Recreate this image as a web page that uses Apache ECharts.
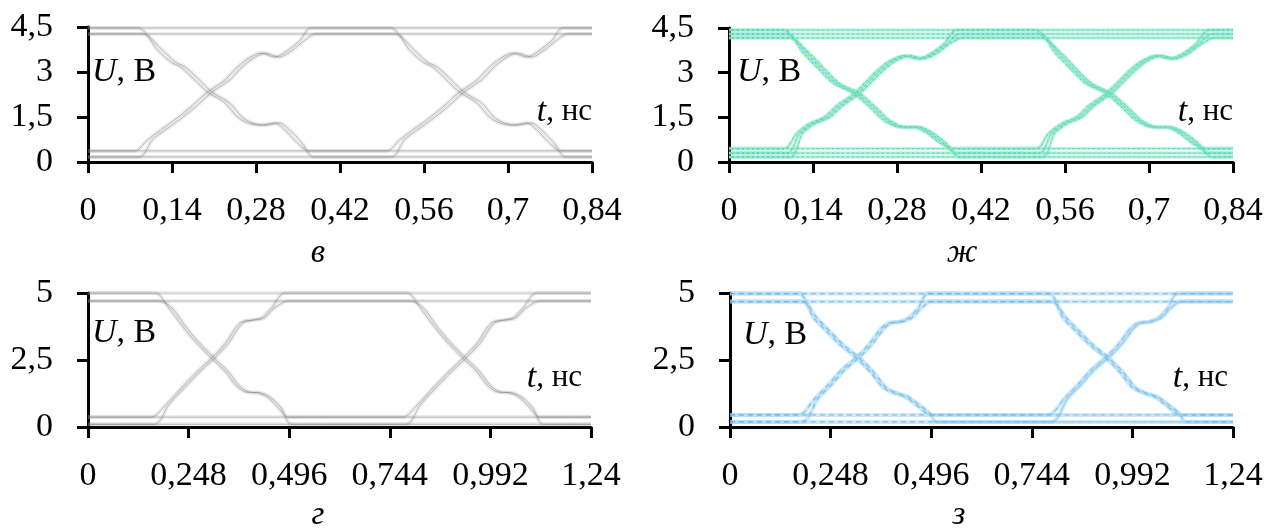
<!DOCTYPE html>
<html>
<head>
<meta charset="utf-8">
<script src="https://cdn.jsdelivr.net/npm/echarts@6/dist/echarts.min.js"></script>
<style>
html, body { margin: 0; padding: 0; background: #fff; }
#eye { width: 1273px; height: 531px; }
</style>
</head>
<body>
<div id="eye"></div>
<script>
// в — grey eye, 0..0.84 ns
var vHi = [4.47, 4.27]
var vLo = [0.37, 0.17]
var vFallT = [0.087, 0.12, 0.142, 0.158, 0.182, 0.203, 0.232, 0.253, 0.27, 0.292, 0.315, 0.332, 0.353, 0.372]
var vFallU = [4.4, 3.73, 3.33, 3.17, 2.73, 2.33, 1.97, 1.5, 1.3, 1.23, 1.3, 1.07, 0.63, 0.33]
var vRiseT = [0.082, 0.103, 0.125, 0.148, 0.175, 0.203, 0.232, 0.253, 0.275, 0.292, 0.315, 0.337, 0.358, 0.375]
var vRiseU = [0.33, 0.73, 1.07, 1.4, 1.83, 2.33, 2.73, 3.17, 3.5, 3.63, 3.5, 3.73, 4.07, 4.33]
var vUI = 0.42

// ж — coloured eye, 0..0.84 ns
var zhHi = [4.43, 4.3, 4.17]
var zhLo = [0.45, 0.3, 0.17]
var zhFallT = [0.095, 0.13, 0.157, 0.18, 0.213, 0.24, 0.263, 0.29, 0.313, 0.335, 0.357, 0.38]
var zhFallU = [4.3, 3.63, 3.07, 2.63, 2.3, 1.83, 1.4, 1.17, 1.17, 0.97, 0.63, 0.35]
var zhRiseT = [0.097, 0.118, 0.14, 0.163, 0.185, 0.213, 0.235, 0.252, 0.273, 0.297, 0.318, 0.34, 0.363, 0.385]
var zhRiseU = [0.5, 0.97, 1.3, 1.5, 1.9, 2.3, 2.73, 3.07, 3.4, 3.57, 3.47, 3.63, 3.97, 4.23]
var zhUI = 0.42

// г — grey eye, 0..1.24 ns
var gHi = [5.0, 4.7]
var gLo = [0.37, 0.1]
var gFallT = [0.17, 0.202, 0.234, 0.269, 0.308, 0.343, 0.367, 0.392, 0.424, 0.449, 0.473, 0.498]
var gFallU = [4.81, 4.46, 3.81, 3.17, 2.57, 2.05, 1.57, 1.31, 1.27, 1.08, 0.71, 0.45]
var gRiseT = [0.16, 0.195, 0.234, 0.269, 0.308, 0.343, 0.367, 0.382, 0.407, 0.431, 0.456, 0.49]
var gRiseU = [0.45, 0.82, 1.46, 2.01, 2.57, 3.13, 3.69, 3.92, 3.99, 4.07, 4.44, 4.93]
var gUI = 0.62

// з — coloured eye, 0..1.24 ns
var zHi = [4.98, 4.68]
var zLo = [0.45, 0.19]
var zFallT = [0.173, 0.21, 0.239, 0.276, 0.313, 0.35, 0.382, 0.407, 0.436, 0.463, 0.488, 0.505]
var zFallU = [4.74, 4.07, 3.62, 3.06, 2.61, 2.05, 1.46, 1.27, 1.12, 0.82, 0.52, 0.34]
var zRiseT = [0.173, 0.214, 0.246, 0.279, 0.316, 0.345, 0.377, 0.394, 0.419, 0.444, 0.468, 0.493]
var zRiseU = [0.56, 1.08, 1.57, 2.13, 2.61, 3.06, 3.69, 3.88, 3.92, 4.07, 4.44, 4.81]
var zUI = 0.615

var skew2 = [-0.004, 0.004]
var skew3 = [-0.005, 0, 0.005]
var bitPatterns = [[0,0,0],[0,0,1],[0,1,0],[0,1,1],[1,0,0],[1,0,1],[1,1,0],[1,1,1]]

var greyLayers = [
  { color: 'rgba(170,170,170,0.1)', width: 4 },
  { color: 'rgba(100,100,100,0.2)', width: 1 }
]
var panels = [
  { hi: vHi, lo: vLo, fallT: vFallT, fallU: vFallU, riseT: vRiseT, riseU: vRiseU, ui: vUI, skew: skew2,
    xMax: 0.84, xStep: 0.14, yMax: 4.5, yStep: 1.5,
    grid: { left: 88, top: 27, width: 504, height: 135 }, layers: greyLayers },
  { hi: zhHi, lo: zhLo, fallT: zhFallT, fallU: zhFallU, riseT: zhRiseT, riseU: zhRiseU, ui: zhUI, skew: skew3,
    xMax: 0.84, xStep: 0.14, yMax: 4.5, yStep: 1.5,
    grid: { left: 729, top: 28, width: 504, height: 134 },
    layers: [
      { color: 'rgba(120,225,215,0.16)', width: 4 },
      { color: 'rgba(150,238,140,0.55)', width: 1.5, type: [3, 2] },
      { color: 'rgba(50,200,225,0.55)', width: 1.2, type: [2, 3], dashOffset: 2 }
    ] },
  { hi: gHi, lo: gLo, fallT: gFallT, fallU: gFallU, riseT: gRiseT, riseU: gRiseU, ui: gUI, skew: skew2,
    xMax: 1.24, xStep: 0.248, yMax: 5, yStep: 2.5,
    grid: { left: 88, top: 293, width: 503, height: 134 }, layers: greyLayers },
  { hi: zHi, lo: zLo, fallT: zFallT, fallU: zFallU, riseT: zRiseT, riseU: zRiseU, ui: zUI, skew: skew2,
    xMax: 1.24, xStep: 0.248, yMax: 5, yStep: 2.5,
    grid: { left: 730, top: 293, width: 503, height: 134 },
    layers: [
      { color: 'rgba(160,215,242,0.3)', width: 4 },
      { color: 'rgba(90,160,225,0.4)', width: 1.2, type: [5, 4] }
    ] }
]

function edgePts(T, U, shift, skew, from, to) {
  var pts = [[T[0] + shift + skew, from]]
  for (var i = 1; i < T.length - 1; i++) pts.push([T[i] + shift + skew, U[i]])
  pts.push([T[T.length - 1] + shift + skew, to])
  return pts
}

function buildTrace(p, bits, k) {
  var lvl = function (b) { return b ? p.hi[k] : p.lo[k] }
  var pts = [[0, lvl(bits[0])]]
  for (var j = 0; j < 2; j++) {
    var a = bits[j], b = bits[j + 1]
    if (a === b) continue
    if (b) pts = pts.concat(edgePts(p.riseT, p.riseU, j * p.ui, p.skew[k], lvl(a), lvl(b)))
    else pts = pts.concat(edgePts(p.fallT, p.fallU, j * p.ui, p.skew[k], lvl(a), lvl(b)))
  }
  pts.push([p.xMax, lvl(bits[2])])
  return pts
}

function fmt(v) {
  return String(Math.round(v * 1000) / 1000).replace('.', ',')
}

var serif = 'Liberation Serif'
var grids = [], xAxes = [], yAxes = [], series = []
panels.forEach(function (p, pi) {
  grids.push(Object.assign({ containLabel: false, outerBoundsMode: 'none' }, p.grid))
  xAxes.push({
    gridIndex: pi, type: 'value', min: 0, max: p.xMax, interval: p.xStep,
    axisLine: { onZero: false, lineStyle: { color: '#000', width: 3 } },
    axisTick: { show: true, length: 11, lineStyle: { color: '#000', width: 3 } },
    axisLabel: { fontFamily: serif, fontSize: 34, color: '#000', margin: 32, showMinLabel: true, showMaxLabel: true, formatter: fmt },
    splitLine: { show: false }
  })
  yAxes.push({
    gridIndex: pi, type: 'value', min: 0, max: p.yMax, interval: p.yStep,
    axisLine: { show: true, onZero: false, lineStyle: { color: '#000', width: 3 } },
    axisTick: { show: true, length: 11, lineStyle: { color: '#000', width: 3 } },
    axisLabel: { fontFamily: serif, fontSize: 34, color: '#000', margin: 35, formatter: fmt },
    splitLine: { show: false }
  })
  bitPatterns.forEach(function (bits) {
    p.hi.forEach(function (h, k) {
      var d = buildTrace(p, bits, k)
      p.layers.forEach(function (ls) {
        series.push({
          type: 'line', xAxisIndex: pi, yAxisIndex: pi, data: d,
          showSymbol: false, smooth: 0.3, silent: true, lineStyle: ls
        })
      })
    })
  })
})

function uLabel(x, y) {
  return {
    type: 'text', x: x, y: y, silent: true,
    style: {
      text: '{i|U}{n|, В}', verticalAlign: 'middle', align: 'left', fill: '#000',
      rich: {
        i: { fontFamily: serif, fontSize: 34, fontStyle: 'italic' },
        n: { fontFamily: serif, fontSize: 34 }
      }
    }
  }
}
function tLabel(x, y) {
  return {
    type: 'text', x: x, y: y, silent: true,
    style: {
      text: '{i|t}{n|, нс}', verticalAlign: 'middle', align: 'right', fill: '#000',
      rich: {
        i: { fontFamily: serif, fontSize: 34, fontStyle: 'italic' },
        n: { fontFamily: serif, fontSize: 31 }
      }
    }
  }
}
function letter(txt, x, y) {
  return {
    type: 'text', x: x, y: y, silent: true,
    style: { text: txt, font: 'italic 33px "Liberation Serif"', fill: '#000', align: 'center', verticalAlign: 'middle' }
  }
}

var option = {
  animation: false,
  backgroundColor: '#fff',
  grid: grids,
  xAxis: xAxes,
  yAxis: yAxes,
  series: series,
  graphic: [
    uLabel(92, 72), tLabel(592, 112), letter('в', 318, 253),
    uLabel(737, 72), tLabel(1233, 112), letter('ж', 962, 253),
    uLabel(92, 333), tLabel(582, 378), letter('г', 318, 515),
    uLabel(743, 335), tLabel(1228, 378), letter('з', 959, 515)
  ]
}

var chart = echarts.init(document.getElementById('eye'))
chart.setOption(option)
</script>
</body>
</html>
